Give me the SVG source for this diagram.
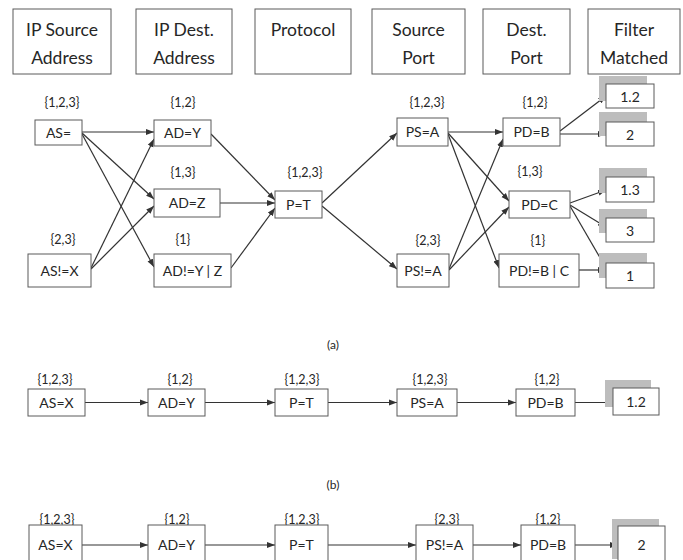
<svg xmlns="http://www.w3.org/2000/svg" width="683" height="560" viewBox="0 0 683 560">
<style>
text{font-family:Lato,"Liberation Sans",sans-serif;fill:#262626;text-anchor:middle}
.box{fill:#fff;stroke:#5a5a5a;stroke-width:1}
.hdr{font-size:17.5px}
.lbl{font-size:14px}
.set{font-size:12.5px}
.cap{font-size:12px}
.sh{fill:#bdbdbd}
.edge{stroke:#333;stroke-width:1.2;fill:none;marker-end:url(#arr)}
</style>
<defs>
<marker id="arr" markerUnits="userSpaceOnUse" markerWidth="8" markerHeight="7" refX="8" refY="3.5" orient="auto">
<path d="M0,0.5 L8,3.5 L0,6.5 z" fill="#333"/>
</marker>
</defs>
<rect width="683" height="560" fill="#fff"/>

<!-- Headers -->
<g id="hdr-src"><rect class="box" x="13" y="9" width="98" height="65"/><text class="hdr" x="62" y="36">IP Source</text><text class="hdr" x="62" y="64">Address</text></g>
<g id="hdr-dst"><rect class="box" x="136" y="9" width="96" height="65"/><text class="hdr" x="184" y="36">IP Dest.</text><text class="hdr" x="184" y="64">Address</text></g>
<g id="hdr-proto"><rect class="box" x="255" y="9" width="96" height="65"/><text class="hdr" x="303" y="36">Protocol</text></g>
<g id="hdr-sport"><rect class="box" x="372" y="9" width="93" height="65"/><text class="hdr" x="418.5" y="36">Source</text><text class="hdr" x="418.5" y="64">Port</text></g>
<g id="hdr-dport"><rect class="box" x="483" y="9" width="87" height="65"/><text class="hdr" x="526.5" y="36">Dest.</text><text class="hdr" x="526.5" y="64">Port</text></g>
<g id="hdr-filter"><rect class="box" x="588" y="9" width="92" height="65"/><text class="hdr" x="634" y="36">Filter</text><text class="hdr" x="634" y="64">Matched</text></g>

<!-- Connectors -->
<g id="connectors">
<path class="edge" d="M82,132 L154,132"/>
<path class="edge" d="M82,133 L154,199"/>
<path class="edge" d="M82,134 L154,267"/>
<path class="edge" d="M91,268 L154,139"/>
<path class="edge" d="M91,269 L154,206"/>
<path class="edge" d="M211,134 L275,200"/>
<path class="edge" d="M220,203 L275,203"/>
<path class="edge" d="M231,268 L275,208"/>
<path class="edge" d="M322,203 L397,133"/>
<path class="edge" d="M322,206 L397,269"/>
<path class="edge" d="M448,132 L503,132"/>
<path class="edge" d="M448,133 L509,201"/>
<path class="edge" d="M448,134 L499,268"/>
<path class="edge" d="M449,269 L503,139"/>
<path class="edge" d="M449,270 L509,207"/>
<path class="edge" d="M560,131 L606,96"/>
<path class="edge" d="M560,134 L606,134"/>
<path class="edge" d="M570,203 L606,190"/>
<path class="edge" d="M570,205 L606,227"/>
<path class="edge" d="M570,206 L606,268"/>
<path class="edge" d="M579,270 L606,270"/>
<path class="edge" d="M85,402.5 L148,402.5"/>
<path class="edge" d="M205,402.5 L275,402.5"/>
<path class="edge" d="M328,402.5 L397,402.5"/>
<path class="edge" d="M457,402.5 L516,402.5"/>
<path class="edge" d="M575,402.5 L613,402.5"/>
<path class="edge" d="M82,545 L148,545"/>
<path class="edge" d="M205,545 L275,545"/>
<path class="edge" d="M328,545 L416,545"/>
<path class="edge" d="M473,545 L521,545"/>
<path class="edge" d="M575,545 L618,545"/>
</g>

<!-- (a) nodes -->
<g id="a-as-eq"><text class="set" x="62" y="107">{1,2,3}</text><rect class="box" x="35" y="120" width="47" height="25"/><text class="lbl" x="58.5" y="137.5">AS=</text></g>
<g id="a-as-ne"><text class="set" x="63" y="244">{2,3}</text><rect class="box" x="28" y="254" width="63" height="33"/><text class="lbl" x="59.5" y="275.5">AS!=X</text></g>
<g id="a-ad-y"><text class="set" x="183" y="107">{1,2}</text><rect class="box" x="154" y="120" width="57" height="26"/><text class="lbl" x="182.5" y="138">AD=Y</text></g>
<g id="a-ad-z"><text class="set" x="183" y="177">{1,3}</text><rect class="box" x="154" y="189" width="66" height="28"/><text class="lbl" x="187" y="208">AD=Z</text></g>
<g id="a-ad-ne"><text class="set" x="183" y="244">{1}</text><rect class="box" x="154" y="254" width="77" height="33"/><text class="lbl" x="192.5" y="275.5">AD!=Y | Z</text></g>
<g id="a-p"><text class="set" x="305" y="177">{1,2,3}</text><rect class="box" x="275" y="191" width="47" height="27"/><text class="lbl" x="298.5" y="209.5">P=T</text></g>
<g id="a-ps-eq"><text class="set" x="427" y="107">{1,2,3}</text><rect class="box" x="397" y="118" width="51" height="28"/><text class="lbl" x="422.5" y="137">PS=A</text></g>
<g id="a-ps-ne"><text class="set" x="428" y="245">{2,3}</text><rect class="box" x="397" y="254" width="52" height="33"/><text class="lbl" x="423" y="275.5">PS!=A</text></g>
<g id="a-pd-b"><text class="set" x="535" y="107">{1,2}</text><rect class="box" x="503" y="118" width="57" height="28"/><text class="lbl" x="531.5" y="137">PD=B</text></g>
<g id="a-pd-c"><text class="set" x="530" y="176">{1,3}</text><rect class="box" x="509" y="191" width="61" height="27"/><text class="lbl" x="539.5" y="209.5">PD=C</text></g>
<g id="a-pd-ne"><text class="set" x="538" y="245">{1}</text><rect class="box" x="499" y="254" width="80" height="33"/><text class="lbl" x="539" y="275.5">PD!=B | C</text></g>
<g id="a-r12"><rect class="sh" x="599" y="76" width="48" height="25"/><rect class="box" x="606" y="84" width="48" height="24"/><text class="lbl" x="630" y="102">1.2</text></g>
<g id="a-r2"><rect class="sh" x="599" y="112" width="48" height="24"/><rect class="box" x="606" y="122" width="48" height="24"/><text class="lbl" x="630" y="139.5">2</text></g>
<g id="a-r13"><rect class="sh" x="599" y="168" width="48" height="25"/><rect class="box" x="606" y="177" width="48" height="25"/><text class="lbl" x="630" y="195">1.3</text></g>
<g id="a-r3"><rect class="sh" x="599" y="209" width="48" height="24"/><rect class="box" x="606" y="218" width="48" height="24"/><text class="lbl" x="630" y="235.5">3</text></g>
<g id="a-r1"><rect class="sh" x="599" y="253" width="48" height="25"/><rect class="box" x="606" y="263" width="48" height="25"/><text class="lbl" x="630" y="281">1</text></g>
<text class="cap" x="333" y="349">(a)</text>

<!-- (b) nodes -->
<g id="b-as"><text class="set" x="55" y="384">{1,2,3}</text><rect class="box" x="28" y="389" width="57" height="27"/><text class="lbl" x="56.5" y="407.5">AS=X</text></g>
<g id="b-ad"><text class="set" x="180" y="384">{1,2}</text><rect class="box" x="148" y="389" width="57" height="27"/><text class="lbl" x="176.5" y="407.5">AD=Y</text></g>
<g id="b-p"><text class="set" x="302" y="384">{1,2,3}</text><rect class="box" x="275" y="389" width="53" height="27"/><text class="lbl" x="301.5" y="407.5">P=T</text></g>
<g id="b-ps"><text class="set" x="430" y="384">{1,2,3}</text><rect class="box" x="397" y="389" width="60" height="27"/><text class="lbl" x="427" y="407.5">PS=A</text></g>
<g id="b-pd"><text class="set" x="547" y="384">{1,2}</text><rect class="box" x="516" y="389" width="59" height="27"/><text class="lbl" x="545.5" y="407.5">PD=B</text></g>
<g id="b-r"><rect class="sh" x="605" y="380" width="46" height="27"/><rect class="box" x="613" y="388" width="46" height="27"/><text class="lbl" x="636" y="407">1.2</text></g>
<text class="cap" x="333" y="489">(b)</text>

<!-- (c) nodes -->
<g id="c-as"><text class="set" x="57" y="524">{1,2,3}</text><rect class="box" x="29" y="525" width="53" height="40"/><text class="lbl" x="55.5" y="549.5">AS=X</text></g>
<g id="c-ad"><text class="set" x="177" y="524">{1,2}</text><rect class="box" x="148" y="525" width="57" height="40"/><text class="lbl" x="176.5" y="549.5">AD=Y</text></g>
<g id="c-p"><text class="set" x="302" y="524">{1,2,3}</text><rect class="box" x="275" y="525" width="53" height="40"/><text class="lbl" x="301.5" y="549.5">P=T</text></g>
<g id="c-ps"><text class="set" x="447" y="524">{2,3}</text><rect class="box" x="416" y="525" width="57" height="40"/><text class="lbl" x="444.5" y="549.5">PS!=A</text></g>
<g id="c-pd"><text class="set" x="548" y="524">{1,2}</text><rect class="box" x="521" y="525" width="54" height="40"/><text class="lbl" x="548" y="549.5">PD=B</text></g>
<g id="c-r"><rect class="sh" x="612" y="519" width="47" height="40"/><rect class="box" x="618" y="526" width="47" height="40"/><text class="lbl" x="641.5" y="549.5">2</text></g>
</svg>
